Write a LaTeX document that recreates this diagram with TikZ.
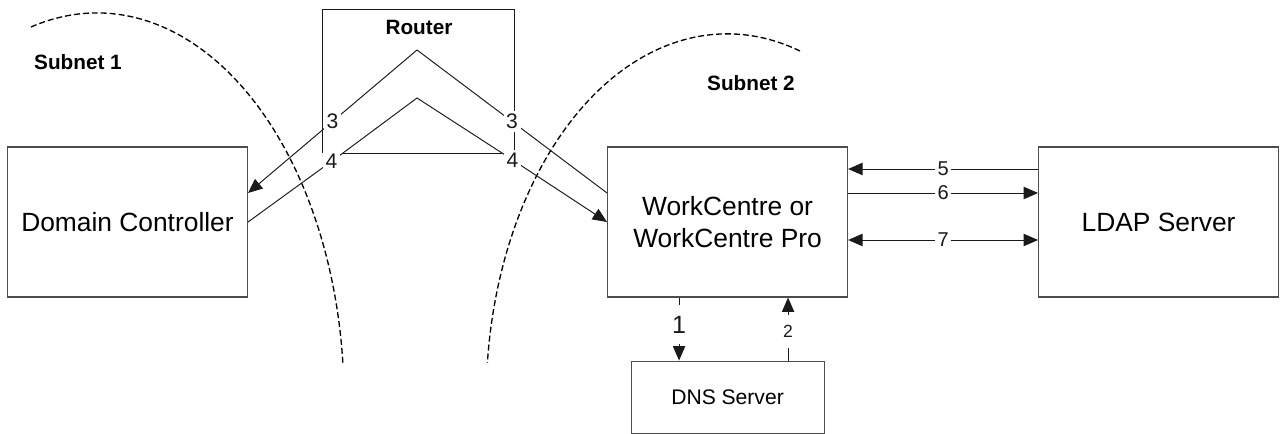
\documentclass[tikz,border=0pt]{standalone}
\usepackage{fontspec}
\setmainfont{Liberation Sans}
\usepackage{tikz}
\usetikzlibrary{arrows.meta, positioning, calc}
\definecolor{BoxGrey}{HTML}{4D4D4D}
\definecolor{LineBlack}{HTML}{1A1A1A}
\tikzset{
  % Box styles
  hostbox/.style={rectangle, draw=BoxGrey, line width=0.6pt, minimum width=4.8cm, minimum height=3cm, font=\fontsize{15}{18.2}\selectfont, align=center},
  dnsbox/.style={rectangle, draw=BoxGrey, line width=0.6pt, minimum width=3.86cm, minimum height=1.44cm, font=\fontsize{12}{14}\selectfont},
  % Label styles
  netlabel/.style={font=\fontsize{11.8}{14}\selectfont\bfseries},
  numlabel/.style={fill=white, inner sep=1.5pt, font=\fontsize{12}{14}\selectfont},
  dnslabel/.style={fill=white, inner xsep=1.5pt, inner ysep=6pt},
  % Arrow styles
  arrow/.style={-{Triangle[length=8.2pt, width=7pt]}, line width=0.55pt, LineBlack},
  biarrow/.style={{Triangle[length=8.2pt, width=7pt]}-{Triangle[length=8.2pt, width=7pt]}, line width=0.55pt, LineBlack},
  plainline/.style={line width=0.55pt, LineBlack},
  subnetline/.style={dash pattern=on 3.4pt off 1.7pt, line width=0.75pt}
}
\begin{document}
\begin{tikzpicture}
  \useasboundingbox (0,0) rectangle (25.64,8.66);

  % Hosts
  \node[hostbox] (dc) at (2.55,4.22) {Domain Controller};
  \node[hostbox, right=7.18cm of dc] (wc) {WorkCentre or\\WorkCentre Pro};
  \node[hostbox, right=3.8cm of wc] (ldap) {LDAP Server};
  \node[dnsbox, below=1.26cm of wc] (dns) {DNS Server};

  % Subnets
  \coordinate (sub1start) at (0.62,8.12);
  \coordinate (sub2start) at (16.0,7.64);
  \draw[subnetline] (sub1start) arc[start angle=105.5, end angle=5.5, x radius=4.94cm, y radius=7.74cm];
  \draw[subnetline] (sub2start) arc[start angle=72.4, end angle=174.2, x radius=4.82cm, y radius=7.32cm];
  \node[netlabel] (subnet1) at (1.56,7.42) {Subnet 1};
  \node[netlabel] (subnet2) at (15.02,7.0) {Subnet 2};

  % Router
  \coordinate (rtl) at (6.44,8.48);
  \coordinate (rtr) at (10.28,8.48);
  \coordinate (rbl) at (6.44,5.6);
  \coordinate (rbr) at (10.28,5.6);
  \draw[plainline] (rbl) -- (rtl) -- (rtr) -- (rbr);
  \node[netlabel] (router) at (8.38,8.12) {Router};
  \coordinate (outer) at (8.34,7.66);
  \coordinate (inner) at (8.34,6.70);
  \coordinate (innerl) at (6.86,5.6);
  \coordinate (innerr) at (10.04,5.6);

  % Arrows through the router
  \draw[plainline] (innerl) -- (innerr);
  \draw[arrow] ([yshift=0.58cm]wc.west) -- node[numlabel]{3} (outer) -- node[numlabel]{3} ([yshift=0.58cm]dc.east);
  \draw[arrow] (dc.east) -- node[numlabel, pos=0.88]{4} (innerl) -- (inner) -- (innerr) -- node[numlabel, pos=0.1]{4} (wc.west);

  % LDAP arrows
  \draw[arrow] ([yshift=1.06cm]ldap.west) -- node[numlabel, font=\fontsize{11.4}{13}\selectfont]{5} ([yshift=1.06cm]wc.east);
  \draw[arrow] ([yshift=0.58cm]wc.east) -- node[numlabel, font=\fontsize{11.4}{13}\selectfont]{6} ([yshift=0.58cm]ldap.west);
  \draw[biarrow] ([yshift=-0.36cm]wc.east) -- node[numlabel, font=\fontsize{11.4}{13}\selectfont]{7} ([yshift=-0.36cm]ldap.west);

  % DNS arrows
  \draw[arrow] ([xshift=-0.97cm]wc.south) -- node[dnslabel, pos=0.43, font=\fontsize{14.2}{16}\selectfont]{1} ([xshift=-0.97cm]dns.north);
  \draw[arrow] ([xshift=1.21cm]dns.north) -- node[dnslabel, pos=0.46, font=\fontsize{10}{12}\selectfont]{2} ([xshift=1.21cm]wc.south);
\end{tikzpicture}
\end{document}
